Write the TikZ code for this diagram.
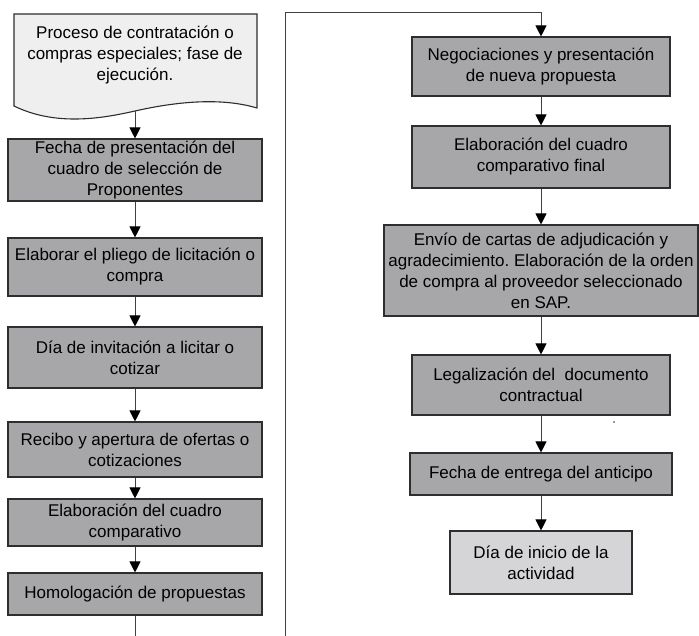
\documentclass[tikz,border=0pt]{standalone}
\usepackage{fontspec}
\setmainfont{Liberation Sans}
\usetikzlibrary{arrows.meta}
\definecolor{boxgray}{HTML}{A7A7A9}
\definecolor{lightbox}{HTML}{D5D5D7}
\definecolor{docgray}{HTML}{EFEFEF}
\definecolor{edgecol}{HTML}{2E2E2E}
\definecolor{linecol}{HTML}{404040}
\frenchspacing
\tikzset{
  stepbox/.style={draw=edgecol, line width=1.1pt, fill=boxgray, align=center,
    inner sep=0pt, font=\fontsize{17}{21}\selectfont, text=black},
  endbox/.style={stepbox, fill=lightbox},
  flow/.style={draw=linecol, line width=1pt, -{Triangle[length=11pt,width=11pt,fill=black,color=black]}},
  plain/.style={draw=linecol, line width=1pt}
}
\begin{document}
\begin{tikzpicture}[x=1pt,y=-1pt]
\useasboundingbox (0,0) rectangle (699,636);
% document shape
\draw[draw=edgecol, line width=1.1pt, fill=docgray]
  (14,106) -- (14,14) -- (257,14) -- (257,108)
  .. controls (220,97) and (175,102) .. (135,111)
  .. controls (100,119) and (55,126) .. (14,106) -- cycle;
\node[align=center, font=\fontsize{17}{21}\selectfont, text=black] (doc) at (135,55)
  {Proceso de contratación o\\compras especiales; fase de\\ejecución.};
\coordinate (docb) at (135,111);
% left column
\node[stepbox, minimum width=254pt, minimum height=62pt] (b1) at (135,170)
  {Fecha de presentación del\\cuadro de selección de\\Proponentes};
\node[stepbox, minimum width=254pt, minimum height=58pt] (b2) at (135,267)
  {Elaborar el pliego de licitación o\\compra};
\node[stepbox, minimum width=254pt, minimum height=61pt] (b3) at (135,357.5)
  {Día de invitación a licitar o\\cotizar};
\node[stepbox, minimum width=254pt, minimum height=55pt] (b4) at (135,449.5)
  {Recibo y apertura de ofertas o\\cotizaciones};
\node[stepbox, minimum width=254pt, minimum height=47pt] (b5) at (135,522.5)
  {Elaboración del cuadro\\comparativo};
\node[stepbox, minimum width=254pt, minimum height=42pt] (b6) at (135,594)
  {Homologación de propuestas};
% right column
\node[stepbox, minimum width=258pt, minimum height=59pt] (r1) at (541,66.5)
  {Negociaciones y presentación\\de nueva propuesta};
\node[stepbox, minimum width=258pt, minimum height=62pt] (r2) at (541,157)
  {Elaboración del cuadro\\comparativo final};
\node[stepbox, minimum width=314pt, minimum height=91pt] (r3) at (541,270.5)
  {Envío de cartas de adjudicación y\\agradecimiento. Elaboración de la orden\\de compra al proveedor seleccionado\\en SAP.};
\node[stepbox, minimum width=258pt, minimum height=60pt] (r4) at (541,385)
  {Legalización del~ documento\\contractual};
\node[stepbox, minimum width=262pt, minimum height=42pt] (r5) at (541,474)
  {Fecha de entrega del anticipo};
\node[endbox, minimum width=182pt, minimum height=63pt] (r6) at (541,562.5)
  {Día de inicio de la\\actividad};
% connectors
\draw[flow] (docb) -- (b1.north);
\draw[flow] (b1) -- (b2);
\draw[flow] (b2) -- (b3);
\draw[flow] (b3) -- (b4);
\draw[flow] (b4) -- (b5);
\draw[flow] (b5) -- (b6);
\coordinate (botL) at (135,636);
\coordinate (botR) at (285,636);
\coordinate (topR) at (285,13);
\draw[plain] (b6) -- (botL);
\draw[flow] (botR) -- (topR) -| (r1.north);
\draw[flow] (r1) -- (r2);
\draw[flow] (r2) -- (r3);
\draw[flow] (r3) -- (r4);
\draw[flow] (r4) -- (r5);
\draw[flow] (r5) -- (r6);
% stray dot
\fill[black!80] (614,422) circle (0.8pt);
\end{tikzpicture}
\end{document}
